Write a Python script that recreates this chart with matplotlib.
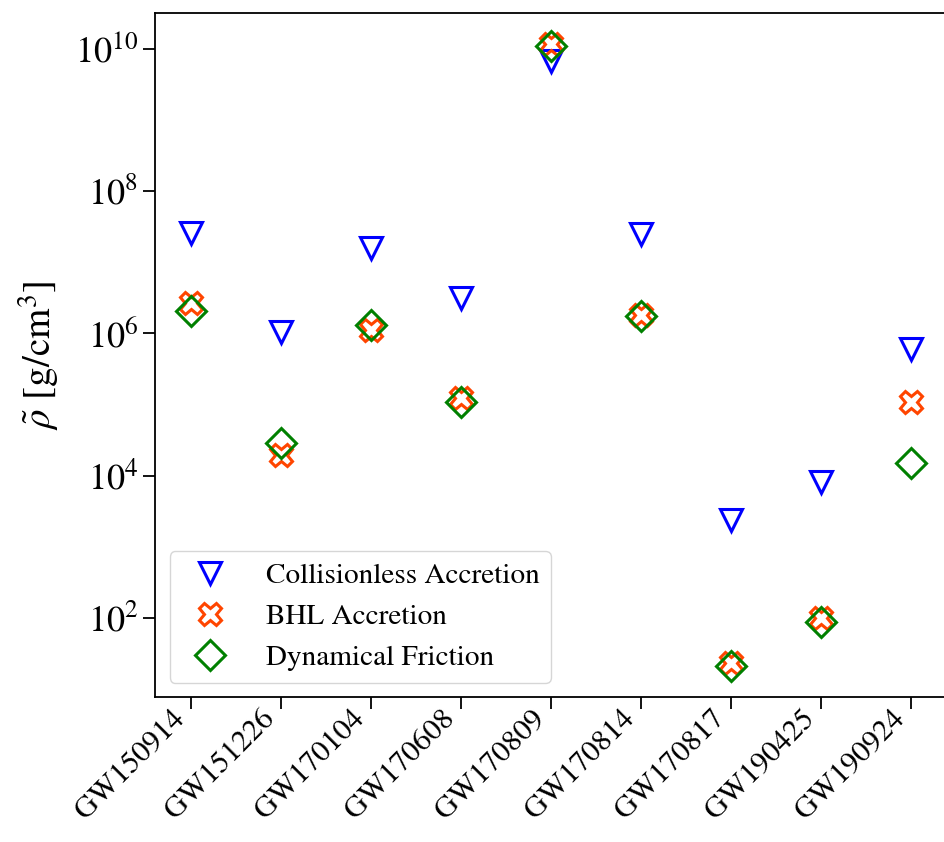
import matplotlib
matplotlib.use("Agg")
import matplotlib.pyplot as plt

plt.rcParams["font.family"] = "STIXGeneral"
plt.rcParams["mathtext.fontset"] = "stix"

events = ["GW150914", "GW151226", "GW170104", "GW170608", "GW170809",
          "GW170814", "GW170817", "GW190425", "GW190924"]

# density estimates per event, g/cm^3
rho_collisionless = [2.6e7, 1.05e6, 1.6e7, 3.2e6, 6.8e9, 2.5e7, 2.4e3, 8.1e3, 6.0e5]
rho_bhl = [2.7e6, 1.95e4, 1.1e6, 1.23e5, 1.17e10, 1.8e6, 23.5, 100, 1.07e5]
rho_dynfric = [2.1e6, 2.9e4, 1.3e6, 1.07e5, 1.1e10, 1.74e6, 21, 87, 1.5e4]

fig = plt.figure(figsize=(9.45, 8.42), dpi=100)
ax = fig.add_axes([0.164, 0.172, 0.838, 0.8125])

x = range(len(events))
ms = 16
mew = 2.2
ax.plot(x, rho_collisionless, linestyle="none", marker="v", ms=ms, mew=mew,
        mfc="none", mec="blue", label="Collisionless Accretion")
ax.plot(x, rho_bhl, linestyle="none", marker="X", ms=ms, mew=mew,
        mfc="none", mec="orangered", label="BHL Accretion")
ax.plot(x, rho_dynfric, linestyle="none", marker="D", ms=ms * 0.95, mew=mew,
        mfc="none", mec="green", label="Dynamical Friction")

ax.set_yscale("log")
ax.set_xlim(-0.4, 8.4)
ax.set_xticks(list(x))
ax.set_xticklabels(events, rotation=45, ha="right", fontsize=22)
ax.set_ylabel(r"$\tilde{\rho}$ [g/cm$^3$]", fontsize=28, labelpad=10)

ax.tick_params(axis="y", which="major", labelsize=26)
ax.tick_params(axis="x", which="major", pad=-3)
ax.tick_params(axis="both", which="major", length=8.5, width=1.3)
ax.tick_params(axis="y", which="minor", length=2.5, width=1.0)
for s in ax.spines.values():
    s.set_linewidth(1.3)

ax.legend(loc="lower left", fontsize=21, numpoints=1, handletextpad=0.9)

fig.savefig("out.png", dpi=100)
